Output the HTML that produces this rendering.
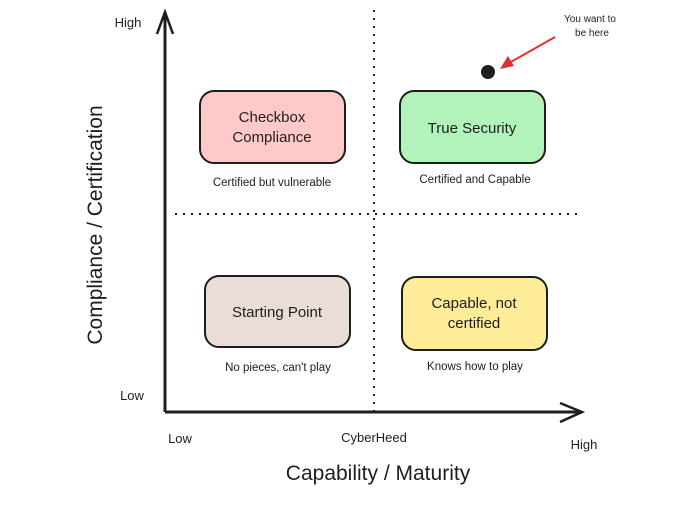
<!DOCTYPE html>
<html><head><style>
html,body{margin:0;padding:0;background:#fff;}
svg text{font-family:"Comic Sans MS","Liberation Sans",sans-serif;fill:#1e1e1e;}
</style></head><body>
<svg width="700" height="500" viewBox="0 0 700 500" xmlns="http://www.w3.org/2000/svg">
<!-- dotted lines -->
<line x1="374" y1="10" x2="374" y2="412" stroke="#1e1e1e" stroke-width="2" stroke-dasharray="2,6"/>
<line x1="175" y1="214" x2="580" y2="214" stroke="#1e1e1e" stroke-width="2" stroke-dasharray="2,6"/>
<!-- axes -->
<line x1="165" y1="412" x2="165" y2="12" stroke="#1e1e1e" stroke-width="3"/>
<polyline points="157,34 165,12 173,34" fill="none" stroke="#1e1e1e" stroke-width="2.5"/>
<line x1="165" y1="412" x2="582" y2="412" stroke="#1e1e1e" stroke-width="3"/>
<polyline points="560,403 582,412 560,422" fill="none" stroke="#1e1e1e" stroke-width="2.5"/>
<!-- boxes -->
<rect x="200" y="91" width="145" height="72" rx="14" fill="#ffc9c9" stroke="#1e1e1e" stroke-width="2"/>
<rect x="400" y="91" width="145" height="72" rx="14" fill="#b2f2bb" stroke="#1e1e1e" stroke-width="2"/>
<rect x="205" y="276" width="145" height="71" rx="14" fill="#eaddd7" stroke="#1e1e1e" stroke-width="2"/>
<rect x="402" y="277" width="145" height="73" rx="14" fill="#ffec99" stroke="#1e1e1e" stroke-width="2"/>
<g font-size="15" text-anchor="middle">
<text x="272" y="122">Checkbox</text>
<text x="272" y="142">Compliance</text>
<text x="472" y="133">True Security</text>
<text x="277" y="317">Starting Point</text>
<text x="474" y="308">Capable, not</text>
<text x="474" y="328">certified</text>
</g>
<g font-size="11.5" text-anchor="middle">
<text x="272" y="186">Certified but vulnerable</text>
<text x="475" y="183">Certified and Capable</text>
<text x="278" y="371">No pieces, can't play</text>
<text x="475" y="370">Knows how to play</text>
</g>
<!-- target -->
<circle cx="488" cy="72" r="7" fill="#1e1e1e"/>
<line x1="555" y1="37" x2="502" y2="67" stroke="#e03131" stroke-width="2"/>
<polygon points="500,69 508,56 514,66" fill="#e03131"/>
<g font-size="10" text-anchor="middle">
<text x="590" y="22">You want to</text>
<text x="592" y="36">be here</text>
</g>
<!-- axis labels -->
<g font-size="13" text-anchor="middle">
<text x="128" y="27">High</text>
<text x="132" y="400">Low</text>
<text x="180" y="443">Low</text>
<text x="374" y="442">CyberHeed</text>
<text x="584" y="449">High</text>
</g>
<text x="378" y="480" font-size="21" text-anchor="middle">Capability / Maturity</text>
<text transform="translate(102,225) rotate(-90)" font-size="21" text-anchor="middle">Compliance / Certification</text>
</svg>
</body></html>
